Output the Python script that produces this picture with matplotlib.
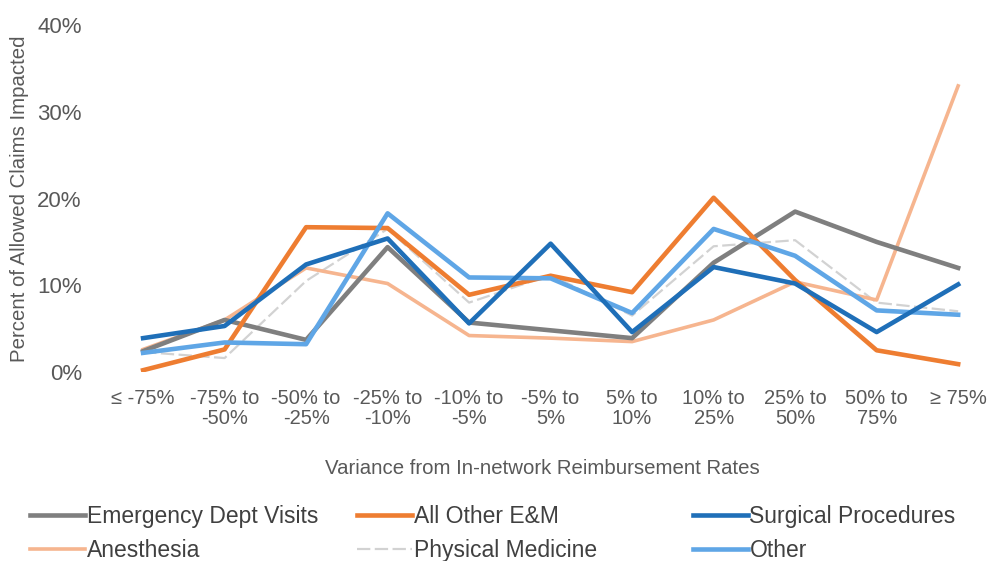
import matplotlib.pyplot as plt

plt.rcParams['font.family'] = ['Liberation Sans', 'DejaVu Sans']

categories = ['≤ -75%', '-75% to\n-50%', '-50% to\n-25%', '-25% to\n-10%', '-10% to\n-5%',
              '-5% to\n5%', '5% to\n10%', '10% to\n25%', '25% to\n50%', '50% to\n75%', '≥ 75%']

emergency = [2.4, 6.0, 3.7, 14.4, 5.7, 4.8, 3.9, 12.6, 18.5, 15.0, 12.0]
all_other_em = [0.2, 2.6, 16.7, 16.6, 8.9, 11.1, 9.2, 20.1, 10.6, 2.5, 0.9]
surgical = [3.9, 5.3, 12.4, 15.4, 5.6, 14.8, 4.6, 12.1, 10.2, 4.6, 10.1]
anesthesia = [2.6, 6.0, 12.0, 10.2, 4.2, 3.9, 3.5, 6.0, 10.4, 8.3, 33.0]
physical_med = [2.3, 1.6, 10.5, 16.5, 8.0, 11.2, 6.5, 14.5, 15.2, 8.0, 7.0]
other = [2.2, 3.4, 3.2, 18.3, 10.9, 10.8, 6.8, 16.5, 13.4, 7.1, 6.6]

fig = plt.figure(figsize=(9.89, 5.61), dpi=100)
ax = fig.add_axes([0.101, 0.337, 0.895, 0.618])

x = range(len(categories))
l_pm, = ax.plot(x, [v / 100 for v in physical_med], color='#d2d2d2', lw=1.6, ls=(0, (6, 2)))
l_an, = ax.plot(x, [v / 100 for v in anesthesia], color='#f6b58f', lw=2.6)
l_ed, = ax.plot(x, [v / 100 for v in emergency], color='#7f7f7f', lw=3.3)
l_em, = ax.plot(x, [v / 100 for v in all_other_em], color='#ee7d31', lw=3.3)
l_ot, = ax.plot(x, [v / 100 for v in other], color='#5fa6e6', lw=3.3)
l_su, = ax.plot(x, [v / 100 for v in surgical], color='#1f6fb8', lw=3.3)

ax.set_xlim(-0.53, 10.33)
ax.set_ylim(0, 0.4)
ax.set_yticks([0, 0.1, 0.2, 0.3, 0.4])
ax.set_yticklabels(['0%', '10%', '20%', '30%', '40%'])
ax.set_xticks(list(x))
ax.set_xticklabels(categories, linespacing=1.1)
ax.tick_params(length=0, colors='#595959')
ax.tick_params(axis='y', labelsize=16, pad=13)
ax.tick_params(axis='x', labelsize=14.5, pad=12)
for s in ax.spines.values():
    s.set_visible(False)

ax.set_ylabel('Percent of Allowed Claims Impacted', fontsize=14.7, color='#595959', labelpad=6)
ax.set_xlabel('Variance from In-network Reimbursement Rates', fontsize=14.7, color='#595959',
              labelpad=22)

# one legend per column so each column can sit at its own x
columns = [(0.028, [l_ed, l_an], ['Emergency Dept Visits', 'Anesthesia']),
           (0.359, [l_em, l_pm], ['All Other E&M', 'Physical Medicine']),
           (0.698, [l_su, l_ot], ['Surgical Procedures', 'Other'])]
for x0, hs, labs in columns:
    fig.legend(hs, labs, loc='lower left', bbox_to_anchor=(x0, -0.006), frameon=False,
               fontsize=16.5, handlelength=2.4, handletextpad=0.08, labelspacing=0.5,
               labelcolor='#404040', borderaxespad=0, borderpad=0.1)

fig.savefig('out.png', dpi=100)
